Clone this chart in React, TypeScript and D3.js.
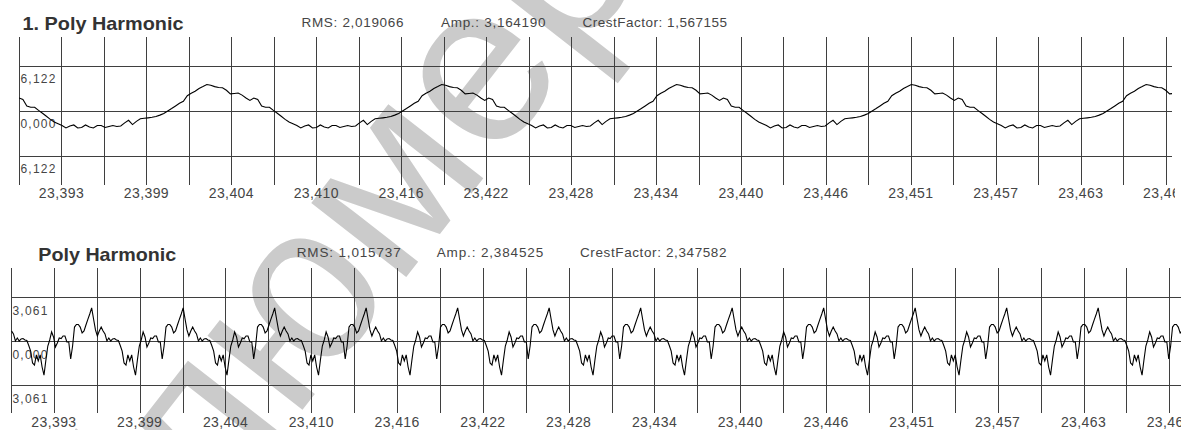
import React from 'react';
import * as d3 from 'd3';

// ---------- data ----------
const tickLabels = ['23,393', '23,399', '23,404', '23,410', '23,416', '23,422', '23,428', '23,434', '23,440', '23,446', '23,451', '23,457', '23,463', '23,469'];
const gridStart = 23.38984; // time (s) at first vertical grid line
const gridStep = 0.00293; // seconds between grid lines
const gridCount = 27;

const topTitle = '1. Poly Harmonic';
const topStats = ['RMS: 2,019066', 'Amp.: 3,164190', 'CrestFactor: 1,567155'];
const topYTicks = [6.122, 0, -6.122];
const topYLabels = ['6,122', '0,000', '6,122'];
const topStart = 23.38984;
const topInterval = 0.00027;
const topValues = [
  1.77, 1.56, 0.69, 0.52, 0.50, 0.08, -0.31, -0.72, -1.14, -1.50, -1.73, -1.97, -2.31, -2.04, -1.90, -2.31, -2.24, -1.90, -2.18, -2.31, -1.97, -1.97, -2.24, -2.11, -1.97, -2.11, -2.04, -1.62, -1.27, -1.85, -1.41, -1.06, -0.99, -0.93, -0.86, -0.76, -0.56, -0.33, 0.01, 0.34, 0.69, 1.05, 1.33, 2.08, 2.41, 2.68, 3.07, 3.33,
  3.61, 3.50, 3.32, 3.20, 3.17, 2.82, 2.33, 2.38, 2.44, 2.16, 1.76, 1.44, 1.77, 1.56, 0.69, 0.52, 0.50, 0.08, -0.31, -0.72, -1.14, -1.50, -1.73, -1.97, -2.31, -2.04, -1.90, -2.31, -2.24, -1.90, -2.18, -2.31, -1.97, -1.97, -2.24, -2.11, -1.97, -2.11, -2.04, -1.62, -1.27, -1.85, -1.41, -1.06, -0.99, -0.93, -0.86, -0.76, -0.56, -0.33, 0.01, 0.34, 0.69, 1.05, 1.33, 2.08, 2.41, 2.68, 3.07, 3.33,
  3.61, 3.50, 3.32, 3.20, 3.17, 2.82, 2.33, 2.38, 2.44, 2.16, 1.76, 1.44, 1.77, 1.56, 0.69, 0.52, 0.50, 0.08, -0.31, -0.72, -1.14, -1.50, -1.73, -1.97, -2.31, -2.04, -1.90, -2.31, -2.24, -1.90, -2.18, -2.31, -1.97, -1.97, -2.24, -2.11, -1.97, -2.11, -2.04, -1.62, -1.27, -1.85, -1.41, -1.06, -0.99, -0.93, -0.86, -0.76, -0.56, -0.33, 0.01, 0.34, 0.69, 1.05, 1.33, 2.08, 2.41, 2.68, 3.07, 3.33,
  3.61, 3.50, 3.32, 3.20, 3.17, 2.82, 2.33, 2.38, 2.44, 2.16, 1.76, 1.44, 1.77, 1.56, 0.69, 0.52, 0.50, 0.08, -0.31, -0.72, -1.14, -1.50, -1.73, -1.97, -2.31, -2.04, -1.90, -2.31, -2.24, -1.90, -2.18, -2.31, -1.97, -1.97, -2.24, -2.11, -1.97, -2.11, -2.04, -1.62, -1.27, -1.85, -1.41, -1.06, -0.99, -0.93, -0.86, -0.76, -0.56, -0.33, 0.01, 0.34, 0.69, 1.05, 1.33, 2.08, 2.41, 2.68, 3.07, 3.33,
  3.61, 3.50, 3.32, 3.20, 3.17, 2.82, 2.33, 2.38, 2.44, 2.16, 1.76, 1.44, 1.77, 1.56, 0.69, 0.52, 0.50, 0.08, -0.31, -0.72, -1.14, -1.50, -1.73, -1.97, -2.31, -2.04, -1.90, -2.31, -2.24, -1.90, -2.18, -2.31, -1.97, -1.97, -2.24, -2.11, -1.97, -2.11, -2.04, -1.62, -1.27, -1.85, -1.41, -1.06, -0.99, -0.93, -0.86, -0.76, -0.56, -0.33, 0.01, 0.34, 0.69, 1.05, 1.33, 2.08, 2.41, 2.68, 3.07, 3.33,
  3.61, 3.50, 3.32, 3.20, 3.17, 2.82, 2.33, 2.38,
];

const bottomTitle = 'Poly Harmonic';
const bottomStats = ['RMS: 1,015737', 'Amp.: 2,384525', 'CrestFactor: 2,347582'];
const bottomYTicks = [3.061, 0, -3.061];
const bottomYLabels = ['3,061', '0,000', '3,061'];
const bottomStart = 23.38988;
const bottomInterval = 0.0001302;
const bottomValues = [
  0.70, 0.49, 0.00, 0.21, 0.00, 0.14, 0.17, 0.07, 0.03, -0.31, -0.70, -1.53, -1.67, -0.97, -1.39, -0.97, -1.81, -2.37, -1.32, -0.35, 0.07, 0.63, 0.28, -0.42, -0.14, 0.21, 0.17, 0.35, 0.35, -0.07, -0.07, -1.25, -0.35, 0.97, 1.15, 1.15, 0.97, 0.56, 0.70, 1.11, 1.50, 1.88,
  2.30, 1.53, 0.77, 0.35, 0.70, 0.97, 0.70, 0.49, 0.00, 0.21, 0.00, 0.14, 0.17, 0.07, 0.03, -0.31, -0.70, -1.53, -1.67, -0.97, -1.39, -0.97, -1.81, -2.37, -1.32, -0.35, 0.07, 0.63, 0.28, -0.42, -0.14, 0.21, 0.17, 0.35, 0.35, -0.07, -0.07, -1.25, -0.35, 0.97, 1.15, 1.15, 0.97, 0.56, 0.70, 1.11, 1.50, 1.88,
  2.30, 1.53, 0.77, 0.35, 0.70, 0.97, 0.70, 0.49, 0.00, 0.21, 0.00, 0.14, 0.17, 0.07, 0.03, -0.31, -0.70, -1.53, -1.67, -0.97, -1.39, -0.97, -1.81, -2.37, -1.32, -0.35, 0.07, 0.63, 0.28, -0.42, -0.14, 0.21, 0.17, 0.35, 0.35, -0.07, -0.07, -1.25, -0.35, 0.97, 1.15, 1.15, 0.97, 0.56, 0.70, 1.11, 1.50, 1.88,
  2.30, 1.53, 0.77, 0.35, 0.70, 0.97, 0.70, 0.49, 0.00, 0.21, 0.00, 0.14, 0.17, 0.07, 0.03, -0.31, -0.70, -1.53, -1.67, -0.97, -1.39, -0.97, -1.81, -2.37, -1.32, -0.35, 0.07, 0.63, 0.28, -0.42, -0.14, 0.21, 0.17, 0.35, 0.35, -0.07, -0.07, -1.25, -0.35, 0.97, 1.15, 1.15, 0.97, 0.56, 0.70, 1.11, 1.50, 1.88,
  2.30, 1.53, 0.77, 0.35, 0.70, 0.97, 0.70, 0.49, 0.00, 0.21, 0.00, 0.14, 0.17, 0.07, 0.03, -0.31, -0.70, -1.53, -1.67, -0.97, -1.39, -0.97, -1.81, -2.37, -1.32, -0.35, 0.07, 0.63, 0.28, -0.42, -0.14, 0.21, 0.17, 0.35, 0.35, -0.07, -0.07, -1.25, -0.35, 0.97, 1.15, 1.15, 0.97, 0.56, 0.70, 1.11, 1.50, 1.88,
  2.30, 1.53, 0.77, 0.35, 0.70, 0.97, 0.70, 0.49, 0.00, 0.21, 0.00, 0.14, 0.17, 0.07, 0.03, -0.31, -0.70, -1.53, -1.67, -0.97, -1.39, -0.97, -1.81, -2.37, -1.32, -0.35, 0.07, 0.63, 0.28, -0.42, -0.14, 0.21, 0.17, 0.35, 0.35, -0.07, -0.07, -1.25, -0.35, 0.97, 1.15, 1.15, 0.97, 0.56, 0.70, 1.11, 1.50, 1.88,
  2.30, 1.53, 0.77, 0.35, 0.70, 0.97, 0.70, 0.49, 0.00, 0.21, 0.00, 0.14, 0.17, 0.07, 0.03, -0.31, -0.70, -1.53, -1.67, -0.97, -1.39, -0.97, -1.81, -2.37, -1.32, -0.35, 0.07, 0.63, 0.28, -0.42, -0.14, 0.21, 0.17, 0.35, 0.35, -0.07, -0.07, -1.25, -0.35, 0.97, 1.15, 1.15, 0.97, 0.56, 0.70, 1.11, 1.50, 1.88,
  2.30, 1.53, 0.77, 0.35, 0.70, 0.97, 0.70, 0.49, 0.00, 0.21, 0.00, 0.14, 0.17, 0.07, 0.03, -0.31, -0.70, -1.53, -1.67, -0.97, -1.39, -0.97, -1.81, -2.37, -1.32, -0.35, 0.07, 0.63, 0.28, -0.42, -0.14, 0.21, 0.17, 0.35, 0.35, -0.07, -0.07, -1.25, -0.35, 0.97, 1.15, 1.15, 0.97, 0.56, 0.70, 1.11, 1.50, 1.88,
  2.30, 1.53, 0.77, 0.35, 0.70, 0.97, 0.70, 0.49, 0.00, 0.21, 0.00, 0.14, 0.17, 0.07, 0.03, -0.31, -0.70, -1.53, -1.67, -0.97, -1.39, -0.97, -1.81, -2.37, -1.32, -0.35, 0.07, 0.63, 0.28, -0.42, -0.14, 0.21, 0.17, 0.35, 0.35, -0.07, -0.07, -1.25, -0.35, 0.97, 1.15, 1.15, 0.97, 0.56, 0.70, 1.11, 1.50, 1.88,
  2.30, 1.53, 0.77, 0.35, 0.70, 0.97, 0.70, 0.49, 0.00, 0.21, 0.00, 0.14, 0.17, 0.07, 0.03, -0.31, -0.70, -1.53, -1.67, -0.97, -1.39, -0.97, -1.81, -2.37, -1.32, -0.35, 0.07, 0.63, 0.28, -0.42, -0.14, 0.21, 0.17, 0.35, 0.35, -0.07, -0.07, -1.25, -0.35, 0.97, 1.15, 1.15, 0.97, 0.56, 0.70, 1.11, 1.50, 1.88,
  2.30, 1.53, 0.77, 0.35, 0.70, 0.97, 0.70, 0.49, 0.00, 0.21, 0.00, 0.14, 0.17, 0.07, 0.03, -0.31, -0.70, -1.53, -1.67, -0.97, -1.39, -0.97, -1.81, -2.37, -1.32, -0.35, 0.07, 0.63, 0.28, -0.42, -0.14, 0.21, 0.17, 0.35, 0.35, -0.07, -0.07, -1.25, -0.35, 0.97, 1.15, 1.15, 0.97, 0.56, 0.70, 1.11, 1.50, 1.88,
  2.30, 1.53, 0.77, 0.35, 0.70, 0.97, 0.70, 0.49, 0.00, 0.21, 0.00, 0.14, 0.17, 0.07, 0.03, -0.31, -0.70, -1.53, -1.67, -0.97, -1.39, -0.97, -1.81, -2.37, -1.32, -0.35, 0.07, 0.63, 0.28, -0.42, -0.14, 0.21, 0.17, 0.35, 0.35, -0.07, -0.07, -1.25, -0.35, 0.97, 1.15, 1.15, 0.97, 0.56, 0.70, 1.11, 1.50, 1.88,
  2.30, 1.53, 0.77, 0.35, 0.70, 0.97, 0.70, 0.49, 0.00, 0.21, 0.00, 0.14, 0.17, 0.07, 0.03, -0.31, -0.70, -1.53, -1.67, -0.97, -1.39, -0.97, -1.81, -2.37, -1.32, -0.35, 0.07, 0.63, 0.28, -0.42, -0.14, 0.21, 0.17, 0.35, 0.35, -0.07, -0.07, -1.25, -0.35, 0.97, 1.15, 1.15, 0.97, 0.56, 0.70,
];

const watermarkText = 'блюмер';

// ---------- drawing ----------
const FONT = '"Liberation Sans", Arial, Helvetica, sans-serif';
const GRID = '#3f3f3f';
const TEXT = '#454545';

type PanelProps = {
  id: string;
  x0: number;
  x27: number;
  hEnd: number;
  textEnd: number;
  yTopPx: number;
  yBotPx: number;
  yMax: number;
  vTop: number;
  vBottom: number;
  values: number[];
  start: number;
  interval: number;
  yTicks: number[];
  yLabels: string[];
  yLabelX: number;
  yLabelDy: number;
  xLabelBaseline: number;
  title: string;
  titleX: number;
  titleBaseline: number;
  titleLen: number;
  stats: string[];
  statsX: number[];
  statsLen: number[];
  statsBaseline: number;
};

function scales(p: PanelProps) {
  const x = d3.scaleLinear().domain([gridStart, gridStart + gridCount * gridStep]).range([p.x0, p.x27]);
  const y = d3.scaleLinear().domain([-p.yMax, p.yMax]).range([p.yBotPx, p.yTopPx]);
  return { x, y };
}

function Grid(p: PanelProps) {
  const { x, y } = scales(p);
  const gridTimes = d3.range(gridCount + 1).map((k) => gridStart + k * gridStep);
  return (
    <g>
      {gridTimes.map((t, k) => {
        const xx = Math.round(x(t)) + 0.5;
        return <line key={'v' + k} x1={xx} x2={xx} y1={p.vTop} y2={p.vBottom} stroke={GRID} strokeWidth={1} shapeRendering="crispEdges" />;
      })}
      {p.yTicks.map((v, i) => {
        const yy = Math.round(y(v)) + 0.5;
        return <line key={'h' + i} x1={p.x0} x2={p.hEnd} y1={yy} y2={yy} stroke={GRID} strokeWidth={1} shapeRendering="crispEdges" />;
      })}
    </g>
  );
}

function Texts(p: PanelProps) {
  const { x, y } = scales(p);
  return (
    <g fontFamily={FONT}>
      <clipPath id={'tclip-' + p.id}>
        <rect x={0} y={0} width={p.textEnd} height={430} />
      </clipPath>
      <text x={p.titleX} y={p.titleBaseline} fontSize={19} fontWeight="bold" fill="#333" textLength={p.titleLen} lengthAdjust="spacingAndGlyphs">{p.title}</text>
      {p.stats.map((s, i) => (
        <text key={'s' + i} x={p.statsX[i]} y={p.statsBaseline} fontSize={13.5} fill={TEXT} textLength={p.statsLen[i]} lengthAdjust="spacing">{s}</text>
      ))}
      {p.yTicks.map((v, i) => (
        <text key={'yl' + i} x={p.yLabelX} y={y(v) + p.yLabelDy} fontSize={12} fill={TEXT} letterSpacing={1.2}>{p.yLabels[i]}</text>
      ))}
      <g clipPath={`url(#tclip-${p.id})`}>
        {tickLabels.map((lab, m) => (
          <text key={'xl' + m} x={x(gridStart + (2 * m + 1) * gridStep)} y={p.xLabelBaseline} fontSize={14} fill={TEXT} textAnchor="middle" letterSpacing={0.4}>{lab}</text>
        ))}
      </g>
    </g>
  );
}

function Trace(p: PanelProps) {
  const { x, y } = scales(p);
  const line = d3
    .line<number>()
    .x((_, i) => x(p.start + i * p.interval))
    .y((v) => y(v));
  return (
    <g>
      <clipPath id={'clip-' + p.id}>
        <rect x={p.x0} y={p.vTop} width={p.hEnd - p.x0} height={p.vBottom - p.vTop} />
      </clipPath>
      <path d={line(p.values) || ''} fill="none" stroke="#000" strokeWidth={1.1} strokeLinejoin="miter" clipPath={`url(#clip-${p.id})`} />
    </g>
  );
}

export default function App() {
  const top: PanelProps = {
    id: 'top',
    x0: 19,
    x27: 1165.7,
    hEnd: 1172,
    textEnd: 1175,
    yTopPx: 66,
    yBotPx: 156,
    yMax: 6.122,
    vTop: 37,
    vBottom: 185,
    values: topValues,
    start: topStart,
    interval: topInterval,
    yTicks: topYTicks,
    yLabels: topYLabels,
    yLabelX: 20.5,
    yLabelDy: 17,
    xLabelBaseline: 198,
    title: topTitle,
    titleX: 22.5,
    titleBaseline: 30,
    titleLen: 161,
    stats: topStats,
    statsX: [301.5, 441, 582.5],
    statsLen: [102, 104.5, 144.5],
    statsBaseline: 26.5,
  };
  const bottom: PanelProps = {
    id: 'bottom',
    x0: 11,
    x27: 1169.3,
    hEnd: 1181,
    textEnd: 1181,
    yTopPx: 297,
    yBotPx: 385,
    yMax: 3.061,
    vTop: 268,
    vBottom: 413,
    values: bottomValues,
    start: bottomStart,
    interval: bottomInterval,
    yTicks: bottomYTicks,
    yLabels: bottomYLabels,
    yLabelX: 12.5,
    yLabelDy: 18,
    xLabelBaseline: 427,
    title: bottomTitle,
    titleX: 38.3,
    titleBaseline: 260.7,
    titleLen: 138,
    stats: bottomStats,
    statsX: [296.7, 436.7, 580],
    statsLen: [104, 106.5, 146.5],
    statsBaseline: 256.5,
  };
  return (
    <svg
      width={1181}
      height={430}
      viewBox="0 0 1181 430"
      style={{ position: 'absolute', left: 0, top: 0, background: '#fff', display: 'block' }}
    >
      <rect x={0} y={0} width={1181} height={430} fill="#fff" />
      <text
        x={0}
        y={0}
        transform="translate(330,245) rotate(-52)"
        fontFamily={FONT}
        fontSize={228}
        fill="#cbcbcb"
        textAnchor="middle"
        dy="0.35em"
      >
        {watermarkText}
      </text>
      <Texts {...top} />
      <Texts {...bottom} />
      <Grid {...top} />
      <Grid {...bottom} />
      <Trace {...top} />
      <Trace {...bottom} />
    </svg>
  );
}
